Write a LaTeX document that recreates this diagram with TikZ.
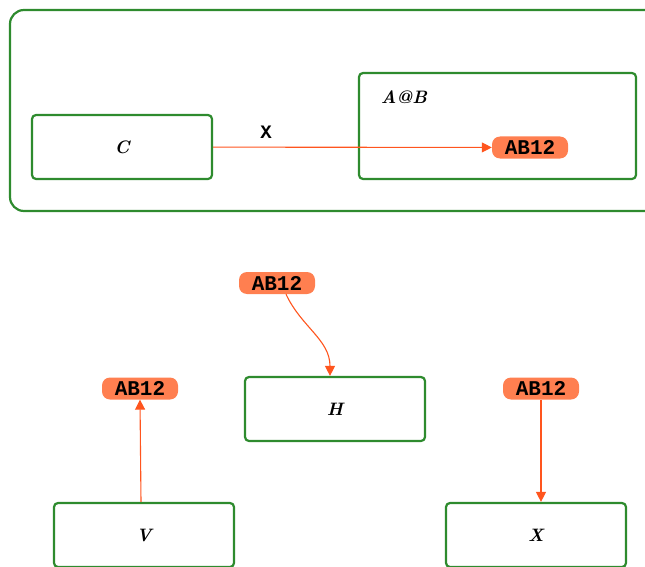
\documentclass[tikz,border=0pt]{standalone}
\usepackage{fontspec}
\setmonofont{Liberation Mono}
\usetikzlibrary{positioning,arrows.meta,shapes}
\definecolor{boxgreen}{RGB}{46,139,46}
\definecolor{tagorange}{RGB}{255,127,80}
\definecolor{linkred}{RGB}{255,85,30}
\begin{document}
\begin{tikzpicture}[x=1pt,y=-1pt,
  box/.style={draw=boxgreen, line width=2.2pt, rounded corners=4pt, minimum width=180pt, minimum height=64pt, font=\fontsize{18}{18}\selectfont\bfseries\itshape},
  tag/.style={fill=tagorange, rounded corners=8pt, minimum width=76pt, minimum height=22pt, inner sep=0pt, font=\fontsize{21}{21}\selectfont\ttfamily\bfseries},
  link/.style={draw=linkred, line width=1.1pt, -{Triangle[length=10pt,width=10pt]}}]
  \useasboundingbox (0,0) rectangle (645,567);

  % Outer container
  \draw[boxgreen, line width=2.2pt, rounded corners=14pt] (10,10) rectangle (665,211);

  % Inner container
  \node[box, minimum width=277pt, minimum height=106pt] (box-ab) at (497.5,126) {};
  \node[font=\fontsize{18}{18}\selectfont\bfseries\itshape] (label-ab) at (404,97) {A@B};

  % Upper row
  \node[box] (box-c) at (122,147) {C};
  \node[tag] (tag-c) at (530,147.5) {AB12};
  \draw[link] (box-c) -- node[pos=0.19, above=5pt, font=\fontsize{19}{19}\selectfont\ttfamily\bfseries] (label-x) {X} (tag-c);

  % Lower row
  \node[tag] (tag-h) at (277,283) {AB12};
  \node[box] (box-h) at (335,409) {H};

  \node[tag] (tag-v) at (140,388.5) {AB12};
  \node[box] (box-v) at (144,535) {V};

  \node[tag] (tag-x) at (541,388.5) {AB12};
  \node[box] (box-x) at (536,535) {X};

  % Arrows
  \coordinate (h-start) at ([xshift=9pt]tag-h.south);
  \draw[link] (h-start) to[out=-65,in=90] ([xshift=-5pt]box-h.north);
  \draw[link] ([xshift=-3pt]box-v.north) -- (tag-v.south);
  \draw[link] (tag-x.south) -- (box-x.north -| tag-x.south);
\end{tikzpicture}
\end{document}
